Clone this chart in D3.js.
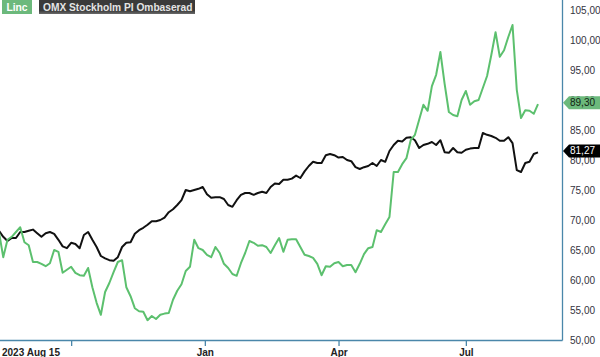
<!DOCTYPE html>
<html>
<head>
<meta charset="utf-8">
<script src="https://cdn.jsdelivr.net/npm/d3@7"></script>
<style>
  html, body { margin: 0; padding: 0; background: #fff; }
  svg { display: block; font-family: "Liberation Sans", Arial, sans-serif; }
</style>
</head>
<body>
<svg id="chart" width="600" height="357"></svg>
<script>
// ---- data (sampled every 2 trading days, from 2023-08-15 to 2024-08-15) ----
const sampleStepDays = 2;
const lincValues = [
  68.0, 63.8, 66.7, 67.2, 68.0, 68.8, 66.3, 65.8, 63.0, 63.0,
  62.7, 62.3, 62.8, 65.0, 64.7, 61.2, 61.7, 62.2, 61.2, 60.8,
  60.7, 62.0, 58.8, 56.2, 54.2, 58.0, 59.5, 61.3, 63.0, 63.3,
  58.8, 57.3, 55.3, 54.8, 54.7, 53.3, 54.0, 53.5, 54.2, 54.4,
  54.5, 56.7, 58.2, 59.3, 61.5, 62.2, 66.7, 65.3, 65.0, 64.2,
  63.8, 65.5, 64.5, 62.7, 62.0, 61.0, 60.7, 62.8, 64.5, 66.5,
  66.2, 65.7, 65.8, 65.5, 64.5, 65.8, 67.0, 64.7, 66.7, 66.8,
  66.8, 65.5, 64.2, 64.0, 63.7, 62.7, 60.8, 62.3, 62.2, 62.8,
  63.0, 62.3, 62.5, 62.5, 61.3, 62.7, 64.3, 65.3, 65.5, 68.3,
  68.0, 69.3, 70.5, 78.0, 78.0, 79.3, 80.3, 83.3, 84.2, 86.7,
  89.2, 88.2, 92.3, 94.2, 98.0, 92.7, 88.0, 87.5, 87.3, 90.0,
  91.5, 89.2, 89.8, 90.0, 92.0, 94.0, 97.5, 101.3, 97.2, 98.3,
  100.5, 102.5, 91.7, 87.0, 88.3, 88.2, 87.7, 89.3
];
const omxValues = [
  68.2, 67.2, 66.5, 67.0, 67.0, 68.0, 68.0, 68.2, 68.4, 67.8,
  67.2, 67.8, 68.0, 67.7, 66.7, 65.6, 65.3, 66.2, 66.0, 65.3,
  67.5, 68.0, 66.7, 65.5, 64.0, 63.6, 63.3, 63.2, 63.8, 65.5,
  66.2, 66.3, 67.7, 68.3, 68.7, 69.2, 69.8, 69.8, 70.0, 70.4,
  71.3, 71.8, 72.5, 73.3, 75.0, 74.8, 75.0, 75.2, 75.5, 74.3,
  73.7, 73.8, 73.8, 73.5, 72.5, 72.2, 73.3, 74.2, 74.5, 74.5,
  74.2, 74.5, 74.7, 74.5, 75.5, 76.1, 76.0, 76.7, 76.7, 76.9,
  77.4, 77.0, 78.1, 79.0, 79.7, 79.5, 79.5, 80.8, 81.0, 80.8,
  80.4, 80.5, 80.0, 79.8, 78.8, 78.5, 78.8, 79.0, 79.5, 79.0,
  80.0, 79.7, 81.5, 82.5, 83.2, 83.1, 83.7, 83.8, 83.3, 82.0,
  82.5, 82.7, 83.0, 82.5, 83.3, 81.3, 81.2, 82.0, 81.3, 81.2,
  81.7, 81.9, 82.0, 82.0, 84.5, 84.2, 84.0, 83.7, 83.2, 83.2,
  83.8, 82.8, 78.3, 78.0, 79.5, 79.7, 81.0, 81.27
];
const seriesNames = ["Linc", "OMX Stockholm PI Ombaserad"];
const lastValues = [89.30, 81.27];
const yTicks = [50, 55, 60, 65, 70, 75, 80, 85, 90, 95, 100, 105];
// trading-day index of month starts
const xTickDays = [34, 97, 160, 220];
const xTickLabels = ["", "Jan", "Apr", "Jul"];
const startLabel = "2023 Aug 15";
const totalDays = 254;

// ---- layout / style ----
const W = 600, H = 357;
const plot = { left: 0, right: 562, top: 0, bottom: 340 };
const axisColor = "#4a87aa";
const greenLine = "#5cc06e";
const greenBox = "#6cb97c";
const blackLine = "#111111";

const svg = d3.select("#chart");

const x = d3.scaleLinear().domain([0, totalDays]).range([-1, 538]);
const y = d3.scaleLinear().domain([50, 105]).range([340, 10]);

const locale = d3.formatLocale({ decimal: ",", thousands: " ", grouping: [3], currency: ["", " kr"] });
const fmt = locale.format(".2f");

// clip
svg.append("defs").append("clipPath").attr("id", "clip")
  .append("rect").attr("x", plot.left).attr("y", plot.top)
  .attr("width", plot.right - plot.left).attr("height", plot.bottom - plot.top);

// y axis (right)
const yAxis = d3.axisRight(y).tickValues(yTicks).tickSize(0).tickPadding(8).tickFormat(fmt);
const gy = svg.append("g").attr("transform", `translate(${plot.right},0)`).call(yAxis);
gy.select(".domain").remove();
gy.selectAll("text").attr("fill", "#333340").style("font-size", "10px")
  .style("font-family", "'Liberation Sans', Arial, sans-serif");

// x axis (bottom)
const xAxis = d3.axisBottom(x).tickValues(xTickDays).tickSize(6).tickPadding(3)
  .tickFormat((d, i) => xTickLabels[i]);
const gx = svg.append("g").attr("transform", `translate(0,${plot.bottom})`).call(xAxis);
gx.select(".domain").remove();
gx.selectAll(".tick line").attr("stroke", axisColor).attr("stroke-width", 1.3);
gx.selectAll("text").attr("fill", "#222").style("font-size", "10px").style("font-weight", "bold")
  .style("font-family", "'Liberation Sans', Arial, sans-serif");

svg.append("text").attr("x", 2).attr("y", 356).attr("fill", "#222")
  .style("font-size", "10px").style("font-weight", "bold").text(startLabel);

// frame lines
svg.append("line").attr("x1", plot.right + 0.5).attr("x2", plot.right + 0.5)
  .attr("y1", 0).attr("y2", plot.bottom + 0.5).attr("stroke", axisColor).attr("stroke-width", 1.3);
svg.append("line").attr("x1", 0).attr("x2", plot.right + 0.5)
  .attr("y1", plot.bottom + 0.5).attr("y2", plot.bottom + 0.5).attr("stroke", axisColor).attr("stroke-width", 1.3);

// lines
const line = d3.line().x((d, i) => x(i * sampleStepDays)).y(d => y(d));
const g = svg.append("g").attr("clip-path", "url(#clip)");
g.append("path").datum(omxValues).attr("d", line).attr("fill", "none")
  .attr("stroke", blackLine).attr("stroke-width", 2).attr("stroke-linejoin", "round");
g.append("path").datum(lincValues).attr("d", line).attr("fill", "none")
  .attr("stroke", greenLine).attr("stroke-width", 2).attr("stroke-linejoin", "round");

// value badges
function badge(v, fill, textColor) {
  const cy = y(v) - 1.5;
  const h = 6.5;
  svg.append("path")
    .attr("d", `M${plot.right + 1},${cy} L${plot.right + 7},${cy - h} L600,${cy - h} L600,${cy + h} L${plot.right + 7},${cy + h} Z`)
    .attr("fill", fill);
  svg.append("text").attr("x", 570).attr("y", cy).attr("dy", "0.35em")
    .attr("fill", textColor).style("font-size", "10px").text(fmt(v));
}
badge(lastValues[0], greenBox, "#112211");
badge(lastValues[1], "#000000", "#ffffff");

// legend
const lg = svg.append("g");
lg.append("rect").attr("x", 2).attr("y", 0).attr("width", 30).attr("height", 14).attr("fill", greenBox);
lg.append("text").attr("x", 17).attr("y", 11).attr("text-anchor", "middle").attr("fill", "#ffffff")
  .style("font-size", "10.3px").style("font-weight", "bold").text(seriesNames[0]);
const grad = svg.select("defs").append("linearGradient").attr("id", "omxg")
  .attr("x1", 0).attr("x2", 0).attr("y1", 0).attr("y2", 1);
grad.append("stop").attr("offset", "0%").attr("stop-color", "#3a3a3a");
grad.append("stop").attr("offset", "75%").attr("stop-color", "#3a3a3a");
grad.append("stop").attr("offset", "100%").attr("stop-color", "#6a6a6a");
lg.append("rect").attr("x", 39).attr("y", 0).attr("width", 156).attr("height", 14).attr("fill", "url(#omxg)");
lg.append("text").attr("x", 43).attr("y", 11).attr("fill", "#e4e4e4")
  .style("font-size", "10.2px").style("font-weight", "bold").text(seriesNames[1]);
</script>
</body>
</html>
